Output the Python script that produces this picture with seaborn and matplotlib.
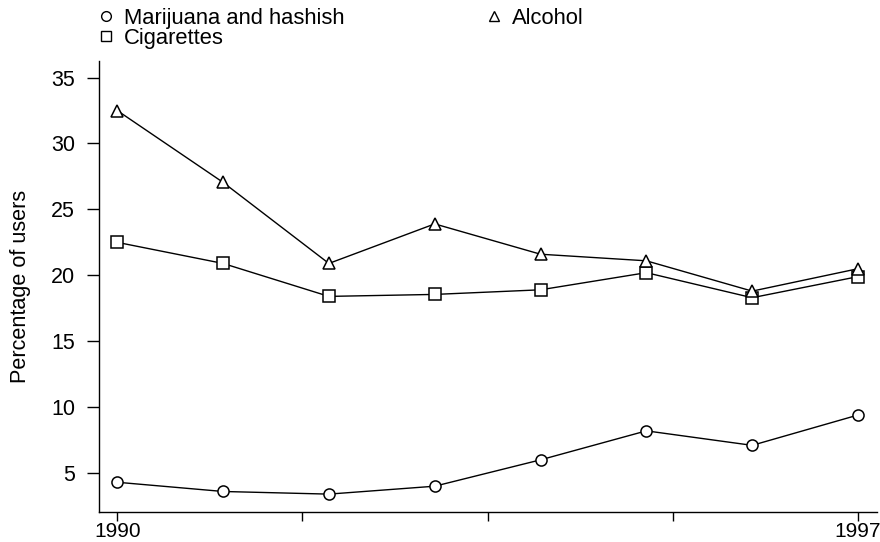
import numpy as np
import pandas as pd
import matplotlib
matplotlib.use("Agg")
import matplotlib.pyplot as plt
from matplotlib.lines import Line2D
import seaborn as sns

years = [1990, 1991, 1992, 1993, 1994, 1995, 1996, 1997]
marijuana = [4.3, 3.6, 3.4, 4.0, 6.0, 8.2, 7.1, 9.4]
cigarettes = [22.5, 20.9, 18.4, 18.55, 18.9, 20.2, 18.3, 19.9]
alcohol = [32.5, 27.05, 20.9, 23.9, 21.6, 21.1, 18.8, 20.5]

series_names = ["Marijuana and hashish", "Cigarettes", "Alcohol"]
series_values = [marijuana, cigarettes, alcohol]
series_markers = {"Marijuana and hashish": "o", "Cigarettes": "s", "Alcohol": "^"}

yticks = [5, 10, 15, 20, 25, 30, 35]
xticks = np.linspace(1990, 1997, 5)
xtick_labels = ["1990", "", "", "", "1997"]

df = pd.DataFrame(
    [(y, v, name) for name, vals in zip(series_names, series_values)
     for y, v in zip(years, vals)],
    columns=["year", "pct", "substance"],
)

sns.set_theme(style="ticks")
plt.rcParams["font.family"] = ["Liberation Sans", "DejaVu Sans"]
plt.rcParams["text.color"] = "black"

fig = plt.figure(figsize=(8.8, 5.42), dpi=100)
ax = fig.add_axes([0.1128, 0.056, 0.8838, 0.8315])

sns.lineplot(
    data=df, x="year", y="pct", hue="substance", style="substance",
    hue_order=series_names, style_order=series_names,
    palette=["black"] * 3, markers=series_markers, dashes=False,
    linewidth=1.0, legend=False, ax=ax,
)
for line in ax.lines:
    line.set_markerfacecolor("white")
    line.set_markeredgecolor("black")
    line.set_markeredgewidth(1.1)
    line.set_markersize(8)
    line.set_color("black")

ax.set_xlim(1989.83, 1997.18)
ax.set_ylim(2.07, 36.26)
ax.set_xticks(xticks)
ax.set_xticklabels(xtick_labels)
ax.set_yticks(yticks)
ax.set_yticklabels([str(t) for t in yticks])
ax.tick_params(axis="x", length=6.5, width=1.0, color="black",
               labelsize=15, labelcolor="black", pad=1.0)
ax.tick_params(axis="y", length=8.5, width=1.0, color="black",
               labelsize=15.5, labelcolor="black", pad=9.0)
ax.set_xlabel("")
ax.set_ylabel("Percentage of users", fontsize=15.6, color="black", labelpad=14)
for side in ["top", "right"]:
    ax.spines[side].set_visible(False)
for side in ["left", "bottom"]:
    ax.spines[side].set_color("black")
    ax.spines[side].set_linewidth(1.0)
ax.grid(False)

handles = [
    Line2D([], [], marker=series_markers[n], linestyle="none",
           markerfacecolor="white", markeredgecolor="black",
           markeredgewidth=1.0, markersize=7)
    for n in series_names
]
leg = fig.legend(handles, series_names, loc="upper left",
                 bbox_to_anchor=(0.108, 0.99), ncol=2, frameon=False,
                 fontsize=15.8, handlelength=0.8, handletextpad=0.4,
                 labelspacing=-0.05, columnspacing=6.45, borderpad=0.1,
                 borderaxespad=0.0)
for t in leg.get_texts():
    t.set_color("black")

fig.savefig("out.png", dpi=100)
